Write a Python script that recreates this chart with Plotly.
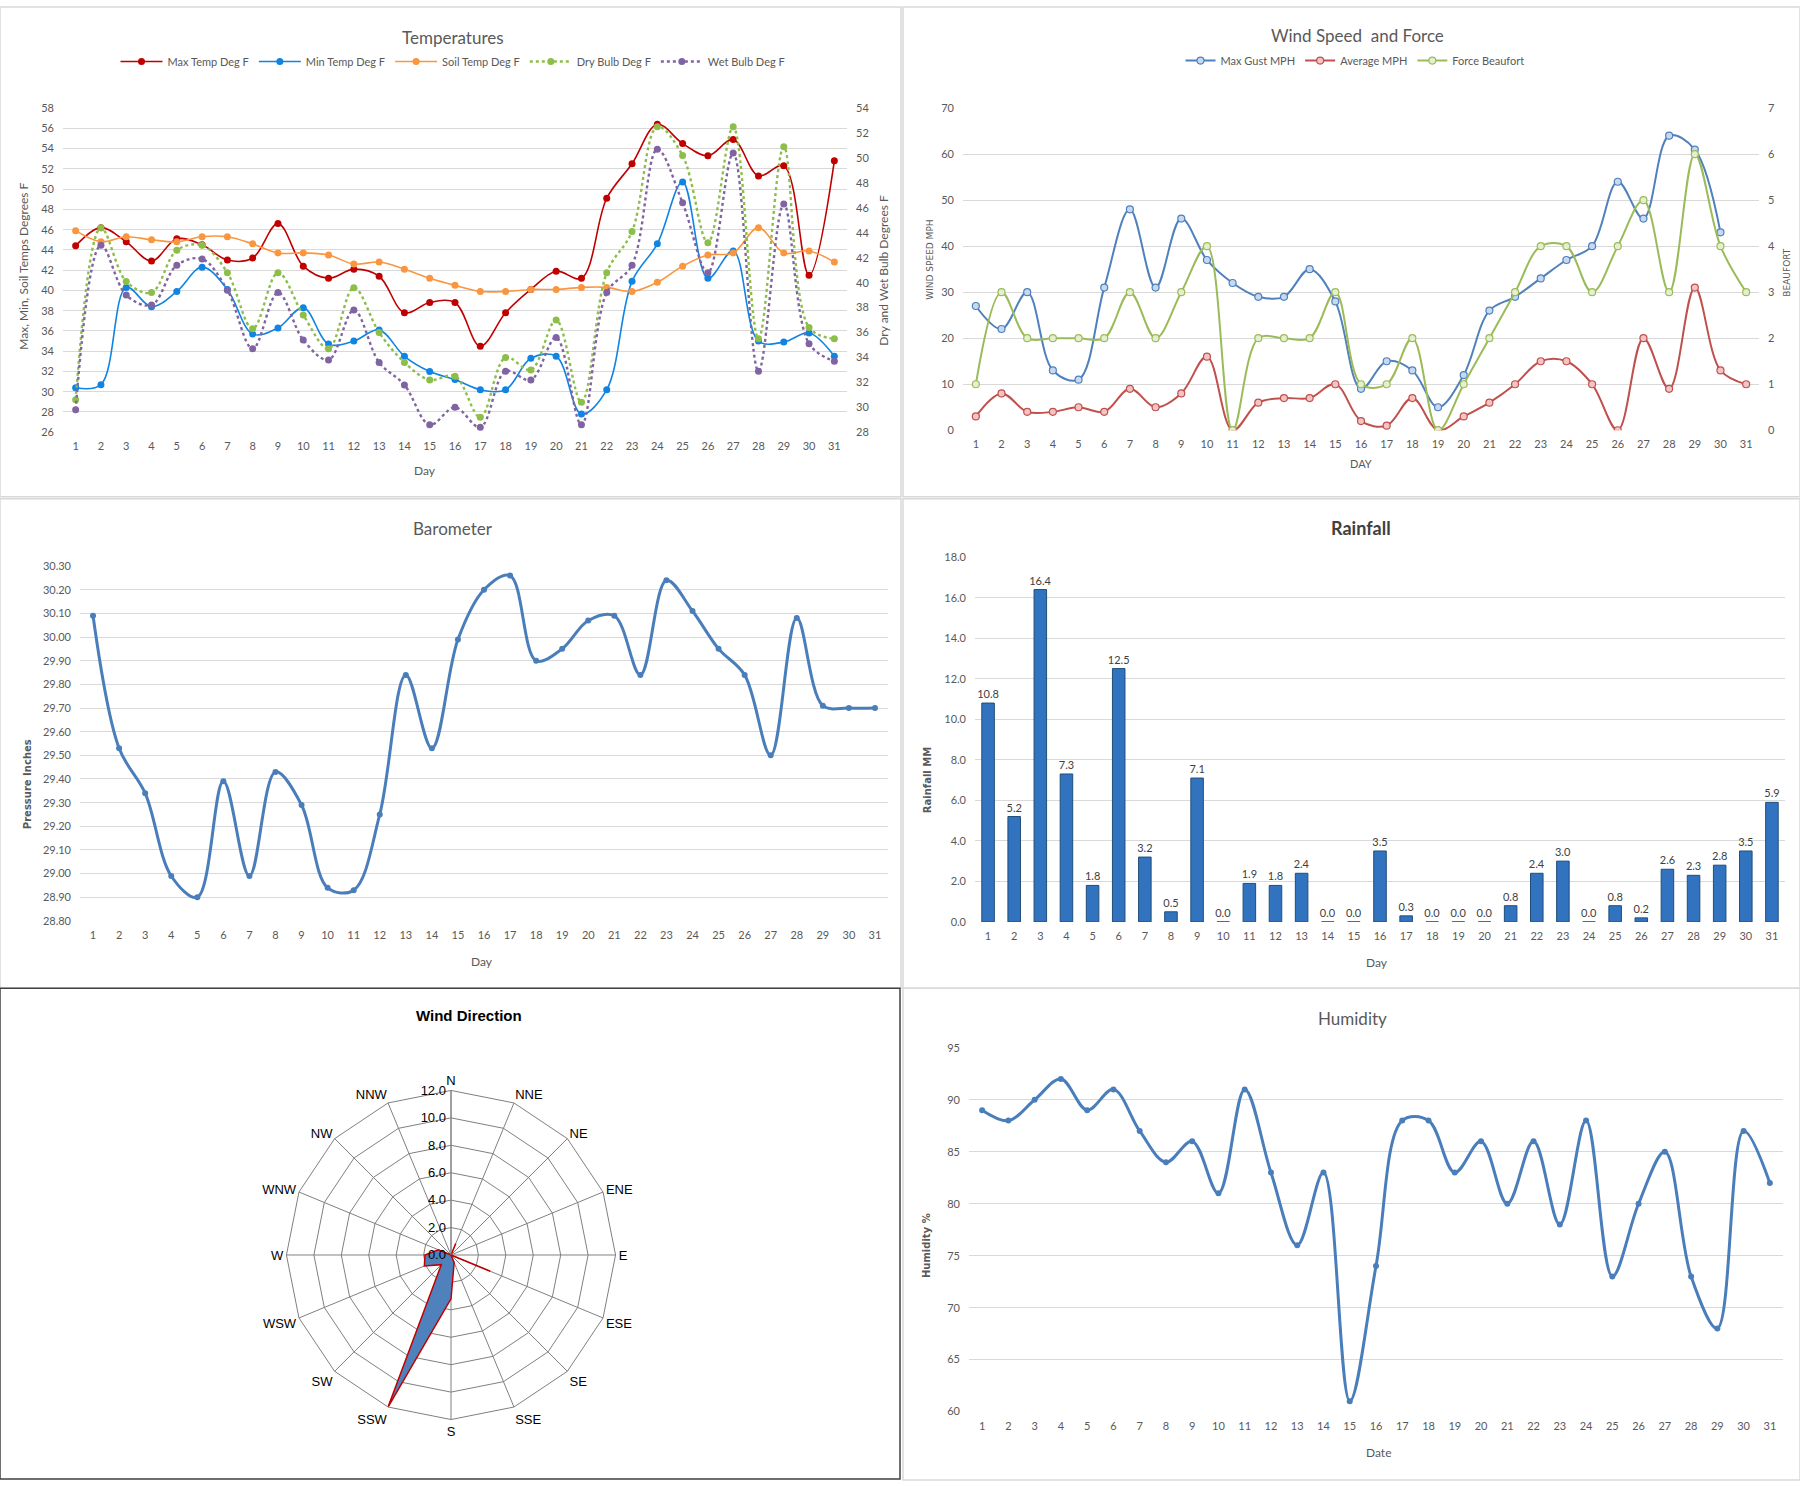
import plotly.graph_objects as go

W, H = 1800, 1486

days = list(range(1, 32))

# Temperatures (deg F)
max_temp = [44.4, 46.2, 44.8, 42.9, 45.1, 44.5, 43.0, 43.2, 46.6, 42.4, 41.2, 42.1, 41.4, 37.8, 38.8, 38.8,
            34.5, 37.8, 40.1, 41.9, 41.2, 49.1, 52.5, 56.4, 54.5, 53.3, 54.9, 51.3, 52.3, 41.5, 52.8]
min_temp = [30.4, 30.7, 40.3, 38.4, 39.9, 42.3, 40.1, 35.7, 36.3, 38.3, 34.7, 35.0, 36.1, 33.5, 32.0, 31.2,
            30.2, 30.2, 33.3, 33.5, 27.8, 30.2, 40.9, 44.6, 50.7, 41.2, 43.9, 35.0, 34.9, 35.8, 33.5]
soil_temp = [45.9, 44.8, 45.3, 45.0, 44.8, 45.3, 45.3, 44.6, 43.7, 43.7, 43.5, 42.6, 42.8, 42.1, 41.2, 40.5,
             39.9, 39.9, 40.1, 40.1, 40.3, 40.3, 39.9, 40.8, 42.4, 43.5, 43.7, 46.2, 43.7, 43.9, 42.8]
dry_bulb = [30.6, 44.4, 40.1, 39.2, 42.6, 43.0, 40.8, 36.3, 40.8, 37.4, 34.7, 39.6, 36.0, 33.6, 32.2, 32.5,
            29.2, 34.0, 33.0, 37.0, 30.4, 40.8, 44.1, 52.5, 50.2, 43.2, 52.5, 35.5, 50.9, 36.4, 35.5]
wet_bulb = [29.8, 43.0, 39.0, 38.2, 41.4, 41.9, 39.4, 34.7, 39.2, 35.4, 33.8, 37.8, 33.6, 31.8, 28.6, 30.0,
            28.4, 32.9, 32.2, 35.6, 28.6, 39.2, 41.4, 50.7, 46.4, 40.8, 50.4, 32.9, 46.3, 35.1, 33.7]

# Wind
max_gust = [27, 22, 30, 13, 11, 31, 48, 31, 46, 37, 32, 29, 29, 35, 28, 9, 15, 13, 5, 12, 26, 29, 33, 37,
            40, 54, 46, 64, 61, 43, None]
avg_mph = [3, 8, 4, 4, 5, 4, 9, 5, 8, 16, 0, 6, 7, 7, 10, 2, 1, 7, 0, 3, 6, 10, 15, 15, 10, 0, 20, 9, 31, 13, 10]
beaufort = [1, 3, 2, 2, 2, 2, 3, 2, 3, 4, 0, 2, 2, 2, 3, 1, 1, 2, 0, 1, 2, 3, 4, 4, 3, 4, 5, 3, 6, 4, 3]

# Barometer (inches)
pressure = [30.09, 29.53, 29.34, 28.99, 28.90, 29.39, 28.99, 29.43, 29.29, 28.94, 28.93, 29.25, 29.84, 29.53,
            29.99, 30.20, 30.26, 29.90, 29.95, 30.07, 30.09, 29.84, 30.24, 30.11, 29.95, 29.84, 29.50, 30.08,
            29.71, 29.70, 29.70]

# Rainfall (mm)
rain_mm = [10.8, 5.2, 16.4, 7.3, 1.8, 12.5, 3.2, 0.5, 7.1, 0.0, 1.9, 1.8, 2.4, 0.0, 0.0, 3.5, 0.3, 0.0, 0.0,
           0.0, 0.8, 2.4, 3.0, 0.0, 0.8, 0.2, 2.6, 2.3, 2.8, 3.5, 5.9]

# Wind direction
directions = ["N", "NNE", "NE", "ENE", "E", "ESE", "SE", "SSE", "S", "SSW", "SW", "WSW", "W", "WNW", "NW", "NNW"]
dir_values = [0, 0.9, 0, 0, 0, 3.1, 0, 0.6, 3.2, 12.0, 1.0, 2.1, 1.9, 1.0, 0, 0]

# Humidity (%)
humidity = [89, 88, 90, 92, 89, 91, 87, 84, 86, 81, 91, 83, 76, 83, 61, 74, 88, 88, 83, 86, 80, 86, 78, 88,
            73, 80, 85, 73, 68, 87, 82]


def xd(a, b):
    return [a / W, b / W]


def yd(top, bottom):
    return [1 - bottom / H, 1 - top / H]


FONT = "Lato, Carlito, Calibri, sans-serif"
GREY = "#595959"
GRID = "#D9D9D9"

fig = go.Figure()

# ---- Temperatures ----
def temp_line(name, vals, color, axis, dash=None, width=1.6):
    fig.add_trace(go.Scatter(
        x=days, y=vals, name=name, mode="lines+markers",
        line=dict(color=color, width=width, shape="spline", smoothing=1, dash=dash),
        marker=dict(color=color, size=7),
        xaxis="x", yaxis=axis, legend="legend"))

temp_line("Max Temp Deg F", max_temp, "#C00000", "y")
temp_line("Min Temp Deg F", min_temp, "#1084E3", "y")
temp_line("Soil Temp Deg F", soil_temp, "#F9963F", "y")
temp_line("Dry Bulb Deg F", dry_bulb, "#8DBE4A", "y2", dash="dot", width=2.4)
temp_line("Wet Bulb Deg F", wet_bulb, "#8064A2", "y2", dash="dot", width=2.4)

# ---- Wind speed ----
def wind_line(name, vals, color, fill, axis):
    fig.add_trace(go.Scatter(
        x=days, y=vals, name=name, mode="lines+markers",
        line=dict(color=color, width=2, shape="spline", smoothing=1),
        marker=dict(color=fill, size=7, line=dict(color=color, width=1.2)),
        xaxis="x2", yaxis=axis, legend="legend2"))

wind_line("Max Gust MPH", max_gust, "#4F81BD", "#C6D9F1", "y3")
wind_line("Average MPH", avg_mph, "#C0504D", "#F2C4C3", "y3")
wind_line("Force Beaufort", beaufort, "#9BBB59", "#E4EFCE", "y4")

# ---- Barometer ----
fig.add_trace(go.Scatter(
    x=days, y=pressure, mode="lines+markers", showlegend=False,
    line=dict(color="#4A7EBB", width=3, shape="spline", smoothing=1),
    marker=dict(color="#4A7EBB", size=6), xaxis="x3", yaxis="y5"))

# ---- Rainfall ----
fig.add_trace(go.Bar(
    x=days, y=rain_mm, width=0.48, showlegend=False,
    marker=dict(color="#3273C0", line=dict(color="#1F4E79", width=1)),
    text=rain_mm, texttemplate="%{y:.1f}", textposition="outside", constraintext="none",
    textfont=dict(family=FONT, size=11, color="#404040"), cliponaxis=False,
    xaxis="x4", yaxis="y6"))

# ---- Humidity ----
fig.add_trace(go.Scatter(
    x=days, y=humidity, mode="lines+markers", showlegend=False,
    line=dict(color="#4A7EBB", width=3, shape="spline", smoothing=1),
    marker=dict(color="#4A7EBB", size=6), xaxis="x5", yaxis="y7"))

# ---- Wind direction ----
fig.add_trace(go.Scatterpolar(
    r=dir_values + dir_values[:1], theta=directions + directions[:1],
    mode="lines", fill="toself", fillcolor="#4F81BD",
    line=dict(color="#C00000", width=1.5), showlegend=False))


def xaxis(dom, anchor):
    return dict(domain=xd(*dom), anchor=anchor, range=[0.5, 31.5], tickvals=days,
                showgrid=False, zeroline=False, showline=False, ticks="",
                tickfont=dict(family=FONT, size=11, color=GREY), ticklabelstandoff=6)


def yaxis(dom, anchor, rng, dtick, fmt=None, grid=True, **kw):
    d = dict(domain=yd(*dom), anchor=anchor, range=rng, dtick=dtick, tick0=rng[0],
             showgrid=grid, gridcolor=GRID, gridwidth=1, zeroline=False, showline=False, ticks="",
             tickfont=dict(family=FONT, size=11, color=GREY), ticklabelstandoff=8)
    if fmt:
        d["tickformat"] = fmt
    d.update(kw)
    return d


fig.update_layout(
    width=W, height=H, margin=dict(l=0, r=0, t=0, b=0),
    paper_bgcolor="white", plot_bgcolor="white",
    font=dict(family=FONT, color=GREY),
    xaxis=xaxis((63, 847), "y"),
    yaxis=yaxis((102, 429), "x", [26, 58], 2),
    yaxis2=yaxis((102, 429), "x", [28, 54], 2, grid=False, overlaying="y", side="right"),
    xaxis2=xaxis((963, 1759), "y3"),
    yaxis3=yaxis((102, 427), "x2", [0, 70], 10),
    yaxis4=yaxis((102, 427), "x2", [0, 7], 1, grid=False, overlaying="y3", side="right"),
    xaxis3=xaxis((80, 888), "y5"),
    yaxis5=yaxis((564, 922), "x3", [28.8, 30.3], 0.1, fmt=".2f"),
    xaxis4=xaxis((975, 1785), "y6"),
    yaxis6=yaxis((555, 923), "x4", [0, 18], 2, fmt=".1f"),
    xaxis5=xaxis((969, 1783), "y7"),
    yaxis7=yaxis((1050, 1417), "x5", [60, 95], 5),
    legend=dict(orientation="h", x=453 / W, xanchor="center", y=1 - 55 / H, yanchor="middle",
                font=dict(family=FONT, size=11, color=GREY), itemwidth=42, bgcolor="rgba(0,0,0,0)"),
    legend2=dict(orientation="h", x=1355 / W, xanchor="center", y=1 - 54 / H, yanchor="middle",
                 font=dict(family=FONT, size=11, color=GREY), itemwidth=30, bgcolor="rgba(0,0,0,0)"),
    polar=dict(
        domain=dict(x=xd(285, 617), y=yd(1093, 1425)),
        bgcolor="white", gridshape="linear",
        angularaxis=dict(rotation=90, direction="clockwise", categoryorder="array",
                         categoryarray=directions, gridcolor="#808080", linecolor="#808080",
                         ticks="", tickfont=dict(family="Liberation Sans, Arial", size=13, color="black")),
        radialaxis=dict(range=[0, 12], dtick=2, tickformat=".1f", angle=90, tickangle=90,
                        side="counterclockwise", gridcolor="#808080", showline=True, linecolor="#808080",
                        ticks="", tickfont=dict(family="Liberation Sans, Arial", size=13, color="black")),
    ),
)

# panel borders
panels = [(0, 0, 901, 494, GRID), (903, 0, 1800, 494, GRID), (0, 496, 901, 990, GRID),
          (903, 496, 1800, 990, GRID), (903, 990, 1800, 1486, GRID), (0, 990, 900, 1485, "#404040")]
for x0, y0, x1, y1, c in panels:
    fig.add_shape(type="rect", xref="paper", yref="paper", x0=x0 / W, x1=x1 / W,
                  y0=1 - y1 / H, y1=1 - y0 / H, line=dict(color=c, width=1.5), layer="below")


def label(text, x, y, size=11, angle=0, bold=False, color=GREY, family=FONT):
    fig.add_annotation(text=f"<b>{text}</b>" if bold else text, x=x / W, y=1 - y / H,
                       xref="paper", yref="paper", showarrow=False, textangle=angle,
                       xanchor="center", yanchor="middle",
                       font=dict(family=family, size=size, color=color))


VERD = "DejaVu Sans, Verdana"
# chart titles
label("Temperatures", 453, 31, size=17)
label("Wind Speed  and Force", 1357, 29, size=17)
label("Barometer", 453, 526, size=17)
label("Rainfall", 1361, 526, size=18, bold=True, color="#404040")
label("Wind Direction", 469, 1017, size=15, bold=True, color="black", family="Liberation Sans, Arial")
label("Humidity", 1352, 1020, size=17)

# axis titles
label("Max, Min, Soil Temps Degrees F", 24, 262, size=12, angle=-90)
label("Dry and Wet Bulb Degrees F", 884, 266, size=12, angle=-90)
label("Day", 425, 468, size=12)
label("WIND SPEED MPH", 930, 255, size=9, angle=-90, family=VERD)
label("BEAUFORT", 1787, 268, size=9, angle=-90, family=VERD)
label("DAY", 1361, 461, size=11)
label("Pressure Inches", 27, 784, size=10, angle=-90, bold=True, family=VERD)
label("Day", 482, 963, size=12)
label("Rainfall MM", 927, 780, size=10, angle=-90, bold=True, family=VERD)
label("Day", 1377, 964, size=12)
label("Humidity %", 926, 1250, size=10, angle=-90, bold=True, family=VERD)
label("Date", 1378, 1458, size=12)

fig.write_html("out.html", config={"displayModeBar": False},
               post_script="document.body.style.margin='0';")
